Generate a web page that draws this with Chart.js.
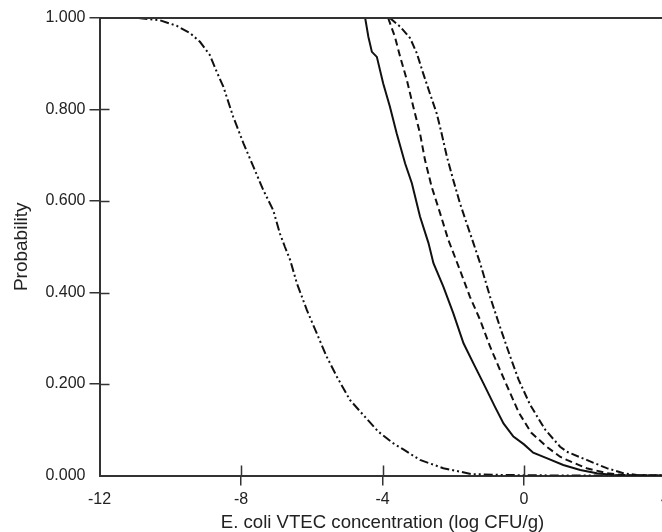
<!DOCTYPE html>
<html>
<head>
<meta charset="utf-8">
<script src="https://cdn.jsdelivr.net/npm/chart.js@4/dist/chart.umd.min.js"></script>
<style>
  html, body { margin: 0; padding: 0; background: #fff; overflow: hidden; }
  #wrap { width: 690px; height: 532px; }
</style>
</head>
<body>
<div id="wrap"><canvas id="c" width="690" height="532"></canvas></div>
<script>
// ---- data ----
const xTickValues = [-12, -8, -4, 0, 4];
const yTickValues = [0, 0.2, 0.4, 0.6, 0.8, 1.0];

// dash-dot-dot curve (leftmost)
const seriesA_x = [-10.9, -10.29, -9.82, -9.44, -9.16, -8.88, -8.69, -8.50, -8.22, -7.93, -7.65, -7.37, -7.09, -6.90, -6.76, -6.61, -6.42, -6.14, -5.86, -5.58, -5.29, -4.92, -4.54, -4.12, -3.69, -3.41, -2.94, -2.28, -1.48, -0.5, 1.0, 4.0];
const seriesA_y = [1.0, 0.995, 0.983, 0.967, 0.948, 0.919, 0.883, 0.850, 0.784, 0.726, 0.675, 0.624, 0.580, 0.529, 0.500, 0.471, 0.420, 0.362, 0.311, 0.260, 0.216, 0.165, 0.132, 0.096, 0.070, 0.057, 0.034, 0.016, 0.003, 0.001, 0.0, 0.0];

// solid curve
const seriesB_x = [-4.49, -4.40, -4.30, -4.16, -3.98, -3.79, -3.60, -3.36, -3.17, -2.94, -2.70, -2.56, -2.28, -2.00, -1.71, -1.43, -1.15, -0.82, -0.58, -0.30, 0.0, 0.26, 0.64, 1.11, 1.59, 2.06, 2.53, 3.0, 4.0];
const seriesB_y = [1.0, 0.959, 0.926, 0.915, 0.857, 0.806, 0.748, 0.682, 0.639, 0.566, 0.508, 0.464, 0.413, 0.355, 0.289, 0.245, 0.202, 0.150, 0.114, 0.085, 0.068, 0.050, 0.038, 0.023, 0.012, 0.005, 0.001, 0.0, 0.0];

// dashed curve
const seriesC_x = [-3.84, -3.65, -3.50, -3.31, -3.13, -2.94, -2.80, -2.61, -2.37, -2.14, -1.81, -1.53, -1.24, -0.96, -0.68, -0.39, -0.15, 0.20, 0.64, 1.02, 1.21, 1.77, 2.34, 2.81, 3.2, 4.0];
const seriesC_y = [1.0, 0.959, 0.915, 0.864, 0.806, 0.748, 0.690, 0.631, 0.573, 0.515, 0.449, 0.391, 0.340, 0.282, 0.231, 0.180, 0.138, 0.094, 0.063, 0.041, 0.034, 0.016, 0.005, 0.001, 0.0, 0.0];

// dash-dot curve
const seriesD_x = [-3.79, -3.50, -3.22, -3.03, -2.85, -2.66, -2.47, -2.33, -2.18, -2.00, -1.81, -1.62, -1.43, -1.24, -0.96, -0.68, -0.39, -0.15, 0.17, 0.60, 1.02, 1.21, 1.77, 2.34, 2.81, 3.19, 3.6, 4.0];
const seriesD_y = [1.0, 0.981, 0.956, 0.923, 0.879, 0.835, 0.792, 0.748, 0.697, 0.646, 0.595, 0.551, 0.508, 0.464, 0.391, 0.325, 0.260, 0.209, 0.155, 0.100, 0.063, 0.052, 0.034, 0.016, 0.005, 0.001, 0.0, 0.0];

const xTitle = 'E. coli VTEC concentration (log CFU/g)';
const yTitle = 'Probability';

// ---- build ----
const toPts = (xs, ys) => xs.map((x, i) => ({ x: x, y: ys[i] }));
const FONT = "'Liberation Sans', Arial, Helvetica, sans-serif";
const AX = '#333';

const frameAndInnerTicks = {
  id: 'frameAndInnerTicks',
  afterDraw(chart) {
    const { ctx, chartArea: a, scales: { x, y } } = chart;
    ctx.save();
    ctx.strokeStyle = AX;
    ctx.lineWidth = 1.5;
    ctx.beginPath();
    x.ticks.forEach((t, i) => {
      if (t.value > x.min && t.value < x.max) {
        const px = Math.round(x.getPixelForTick(i)) + 0.5;
        ctx.moveTo(px, a.bottom); ctx.lineTo(px, a.bottom - 10);
      }
    });
    y.ticks.forEach((t, i) => {
      if (t.value > y.min && t.value < y.max) {
        const py = Math.round(y.getPixelForTick(i)) + 0.5;
        ctx.moveTo(a.left, py); ctx.lineTo(a.left + 10, py);
      }
    });
    ctx.stroke();
    ctx.lineWidth = 2;
    ctx.beginPath();
    const ty = y.getPixelForValue(y.max);
    ctx.moveTo(a.left, ty); ctx.lineTo(a.right, ty);
    ctx.stroke();
    ctx.restore();
  }
};

const common = { pointRadius: 0, borderColor: '#111', borderWidth: 2, tension: 0, fill: false, showLine: true };

new Chart(document.getElementById('c'), {
  type: 'scatter',
  data: {
    datasets: [
      Object.assign({ label: 'A', data: toPts(seriesA_x, seriesA_y), borderDash: [9, 3, 2, 3, 2, 3] }, common),
      Object.assign({ label: 'B', data: toPts(seriesB_x, seriesB_y), borderDash: [] }, common),
      Object.assign({ label: 'C', data: toPts(seriesC_x, seriesC_y), borderDash: [7, 4] }, common),
      Object.assign({ label: 'D', data: toPts(seriesD_x, seriesD_y), borderDash: [8, 3, 2, 3] }, common)
    ]
  },
  options: {
    responsive: false,
    animation: false,
    devicePixelRatio: 1,
    layout: { padding: { top: 18, right: 24.5, left: 0, bottom: 0 } },
    plugins: { legend: { display: false }, tooltip: { enabled: false } },
    scales: {
      x: {
        type: 'linear',
        min: -12, max: 4,
        afterBuildTicks: s => { s.ticks = xTickValues.map(v => ({ value: v })); },
        afterFit: s => { s.height = 56.5; },
        ticks: { font: { family: FONT, size: 16 }, color: '#222', padding: 4, maxRotation: 0, autoSkip: false,
                 callback: v => String(v) },
        grid: { drawOnChartArea: false, drawTicks: true, tickLength: 10, lineWidth: 1.5,
                color: c => (c.tick && c.tick.value === -12) ? 'rgba(0,0,0,0)' : AX },
        border: { display: true, color: AX, width: 2 },
        title: { display: true, text: xTitle, color: '#222', font: { family: FONT, size: 18.6, lineHeight: 1 }, padding: { top: 0, bottom: 0 } }
      },
      y: {
        type: 'linear',
        min: 0, max: 1,
        afterBuildTicks: s => { s.ticks = yTickValues.map(v => ({ value: v })); },
        afterFit: s => { s.width = 99.5; },
        ticks: { font: { family: FONT, size: 16 }, color: '#222', padding: 4, autoSkip: false,
                 callback: v => Number(v).toFixed(3) },
        grid: { drawOnChartArea: false, drawTicks: true, tickLength: 10, lineWidth: 1.5,
                color: c => (c.tick && c.tick.value === 0) ? 'rgba(0,0,0,0)' : AX },
        border: { display: true, color: AX, width: 2 },
        title: { display: true, text: yTitle, color: '#222', font: { family: FONT, size: 19, lineHeight: 1 }, padding: { top: 12, bottom: 0 } }
      }
    }
  },
  plugins: [frameAndInnerTicks]
});
</script>
</body>
</html>
